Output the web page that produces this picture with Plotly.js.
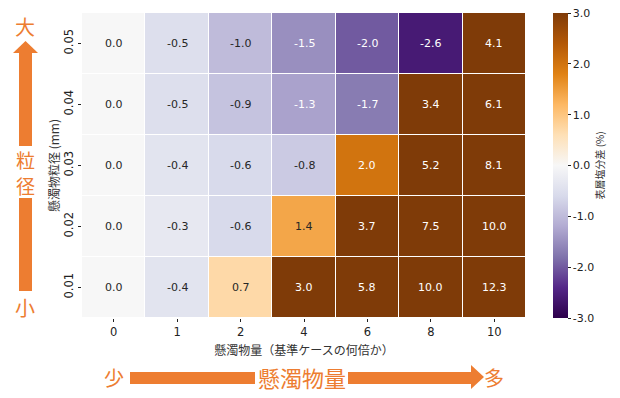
<!DOCTYPE html>
<html><head><meta charset="utf-8">
<script src="https://cdn.plot.ly/plotly-3.0.1.min.js"></script>
<style>html,body{margin:0;padding:0;background:#fff}#c{width:620px;height:398px}</style>
</head><body><div id="c"></div>
<script>
// ---- data ----
const xLabels = ['0','1','2','4','6','8','10'];
const yLabels = ['0.01','0.02','0.03','0.04','0.05'];
const row001 = [0.0, -0.4, 0.7, 3.0, 5.8, 10.0, 12.3];
const row002 = [0.0, -0.3, -0.6, 1.4, 3.7, 7.5, 10.0];
const row003 = [0.0, -0.4, -0.6, -0.8, 2.0, 5.2, 8.1];
const row004 = [0.0, -0.5, -0.9, -1.3, -1.7, 3.4, 6.1];
const row005 = [0.0, -0.5, -1.0, -1.5, -2.0, -2.6, 4.1];
const zValues = [row001, row002, row003, row004, row005];
const cbTicks = [-3, -2, -1, 0, 1, 2, 3];

// ---- style ----
const puorR = ['#2d004b','#542788','#8073ac','#b2abd2','#d8daeb','#f7f7f7','#fee0b6','#fdb863','#e08214','#b35806','#7f3b08'];
const colorscale = puorR.map((c,i)=>[i/10,c]);
const ORANGE = '#ED7D31';
const TXT = '#222';
const FONT = 'DejaVu Sans, Noto Sans CJK JP, sans-serif';
const JFONT = 'Noto Sans CJK JP, sans-serif';
const L=82, T=13, W=444, H=305;
const px = v => (v-L)/W, py = v => (T+H-v)/H;

function hex2rgb(h){return [1,3,5].map(i=>parseInt(h.substr(i,2),16)/255);}
function colorAt(v){
  let t=(Math.max(-3,Math.min(3,v))+3)/6*10;
  let i=Math.min(9,Math.floor(t)), f=t-i;
  let a=hex2rgb(puorR[i]), b=hex2rgb(puorR[i+1]);
  return a.map((x,k)=>x+(b[k]-x)*f);
}
function lum(rgb){
  const c=rgb.map(x=> x<=0.03928? x/12.92 : Math.pow((x+0.055)/1.055,2.4));
  return 0.2126*c[0]+0.7152*c[1]+0.0722*c[2];
}

const annotations = [];
zValues.forEach((row,j)=>row.forEach((v,i)=>{
  annotations.push({x:i, y:j, xref:'x', yref:'y', text:v.toFixed(1), showarrow:false,
    font:{family:FONT,size:11,color: lum(colorAt(v))<0.408 ? '#ffffff' : '#262626'}});
}));
// orange indicator texts
const big = (text,x,y,size)=>({text, x:px(x), y:py(y), xref:'paper', yref:'paper', showarrow:false,
  xanchor:'center', yanchor:'middle', font:{family:JFONT,size:size,color:ORANGE}});
annotations.push(big('大',25,27,20));
annotations.push(big('粒',25,159,19));
annotations.push(big('径',25,185.5,19));
annotations.push(big('小',25,307,20));
annotations.push(big('少',114,377,20));
annotations.push(big('懸濁物量',302,377,22));
annotations.push(big('多',494,377,20));

function rectPx(x0,y0,x1,y1){return {type:'rect',xref:'paper',yref:'paper',x0:px(x0),x1:px(x1),y0:py(y1),y1:py(y0),fillcolor:ORANGE,line:{width:0}};}
function triPx(pts){
  const d='M '+pts.map(p=>px(p[0])+','+py(p[1])).join(' L ')+' Z';
  return {type:'path',xref:'paper',yref:'paper',path:d,fillcolor:ORANGE,line:{width:0}};
}
const shapes=[
  rectPx(19,52,32,146), triPx([[13,53],[38,53],[25.5,41]]),
  rectPx(19,198,32,291),
  rectPx(130,372,255,384), rectPx(348,372,472,384), triPx([[471,365],[471,389],[484,377]])
];

const trace = {type:'heatmap', x:xLabels, y:yLabels, z:zValues, zmin:-3, zmax:3, colorscale,
  xgap:1, ygap:1, hoverinfo:'skip',
  colorbar:{thickness:15, len:1, lenmode:'fraction', y:0.5, yanchor:'middle', x:px(553), xanchor:'left', xpad:0, ypad:0,
    outlinewidth:0, tickvals:cbTicks, ticktext:cbTicks.map(v=>v.toFixed(1)), ticks:'outside', ticklen:3, tickcolor:TXT,
    tickfont:{family:FONT,size:11,color:TXT},
    title:{text:'表層塩分差 (%)', side:'right', font:{family:JFONT,size:10,color:'#333'}}}};

const layout = {width:620, height:398, margin:{l:L,r:620-L-W,t:T,b:398-T-H,autoexpand:false},
  paper_bgcolor:'#fff', plot_bgcolor:'#fff', showlegend:false,
  xaxis:{type:'category', showgrid:false, zeroline:false, ticks:'outside', ticklen:3, tickcolor:TXT,
    tickfont:{family:FONT,size:11.5,color:TXT},
    title:{text:'懸濁物量（基準ケースの何倍か）', font:{family:JFONT,size:12,color:'#333'}, standoff:8}},
  yaxis:{type:'category', showgrid:false, zeroline:false, ticks:'outside', ticklen:3, tickcolor:TXT, tickangle:-90,
    tickfont:{family:FONT,size:11.5,color:TXT},
    title:{text:'懸濁物粒径 (mm)', font:{family:JFONT,size:12,color:'#333'}, standoff:0}},
  annotations, shapes};

Plotly.newPlot('c',[trace],layout,{displayModeBar:false,staticPlot:true});
</script></body></html>
